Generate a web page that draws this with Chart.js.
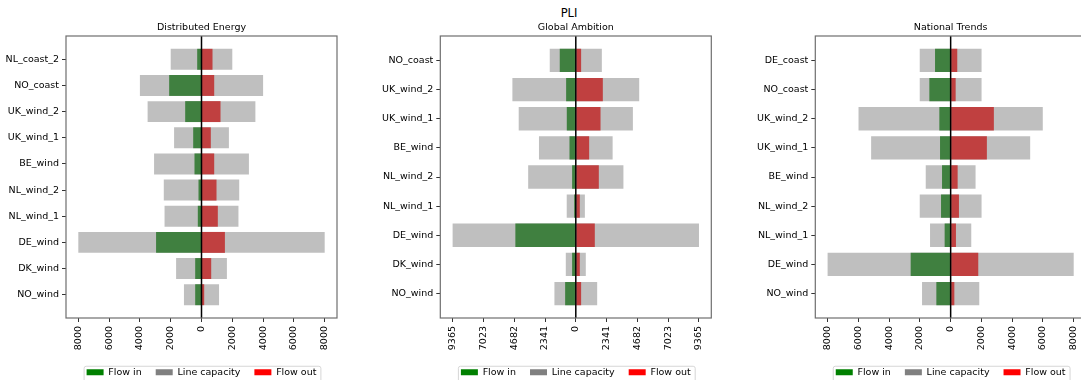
<!DOCTYPE html>
<html><head><meta charset="utf-8">
<script src="https://cdn.jsdelivr.net/npm/chart.js@4.4.1/dist/chart.umd.min.js"></script>
<style>
html,body{margin:0;padding:0;background:#fff;overflow:hidden;width:1081px;height:380px;}
#wrap{position:relative;width:1081px;height:380px;overflow:hidden;background:#fff;}
canvas{position:absolute;top:0;}
#sup{position:absolute;left:469px;width:200px;top:5px;text-align:center;font-family:'DejaVu Sans';font-size:11.5px;line-height:16px;color:#000;}
</style></head><body>
<div id="wrap">
<div id="sup">PLI</div>
<canvas id="c1" width="350" height="387" style="left:0px"></canvas>
<canvas id="c2" width="360" height="387" style="left:360px"></canvas>
<canvas id="c3" width="380" height="387" style="left:720px"></canvas>
</div>
<script>
// ---- data ----
const legendLabels = ['Flow in', 'Line capacity', 'Flow out'];

const deTitle = 'Distributed Energy';
const deCategories = ['NL_coast_2','NO_coast','UK_wind_2','UK_wind_1','BE_wind','NL_wind_2','NL_wind_1','DE_wind','DK_wind','NO_wind'];
const deCapacity = [2000, 4000, 3500, 1780, 3080, 2450, 2400, 8000, 1650, 1140];
const deFlowIn   = [280, 2100, 1060, 540, 455, 195, 240, 2950, 410, 410];
const deFlowOut  = [715, 825, 1235, 605, 825, 975, 1060, 1520, 630, 175];
const deTickValues = [-8000,-6000,-4000,-2000,0,2000,4000,6000,8000];
const deTickLabels = ['8000','6000','4000','2000','0','2000','4000','6000','8000'];

const gaTitle = 'Global Ambition';
const gaCategories = ['NO_coast','UK_wind_2','UK_wind_1','BE_wind','NL_wind_2','NL_wind_1','DE_wind','DK_wind','NO_wind'];
const gaCapacity = [1980, 4820, 4340, 2800, 3620, 690, 9365, 760, 1625];
const gaFlowIn   = [1220, 735, 685, 480, 280, 125, 4595, 280, 810];
const gaFlowOut  = [405, 2055, 1880, 1015, 1750, 305, 1445, 305, 405];
const gaTickValues = [-9365,-7023.75,-4682.5,-2341.25,0,2341.25,4682.5,7023.75,9365];
const gaTickLabels = ['9365','7023','4682','2341','0','2341','4682','7023','9365'];

const ntTitle = 'National Trends';
const ntCategories = ['DE_coast','NO_coast','UK_wind_2','UK_wind_1','BE_wind','NL_wind_2','NL_wind_1','DE_wind','NO_wind'];
const ntCapacity = [2010, 2010, 5990, 5170, 1620, 2010, 1340, 8000, 1860];
const ntFlowIn   = [1015, 1385, 735, 690, 560, 625, 390, 2600, 930];
const ntFlowOut  = [430, 325, 2810, 2355, 455, 540, 345, 1795, 240];
const ntTickValues = [-8000,-6000,-4000,-2000,0,2000,4000,6000,8000];
const ntTickLabels = ['8000','6000','4000','2000','0','2000','4000','6000','8000'];

// ---- styles ----
const FONT = 'DejaVu Sans';
const BAR_COLORS = ['rgb(64,128,64)', 'rgb(191,191,191)', 'rgb(192,64,64)'];
const LEGEND_COLORS = ['#008000', '#808080', '#ff0000'];

const framePlugin = {
  id: 'frame',
  afterDatasetsDraw(chart) {
    const ctx = chart.ctx, a = chart.chartArea;
    const x0 = chart.scales.x.getPixelForValue(0);
    ctx.save();
    ctx.strokeStyle = '#000';
    ctx.lineWidth = 1.5;
    ctx.beginPath();
    ctx.moveTo(x0, a.top);
    ctx.lineTo(x0, a.bottom);
    ctx.stroke();
    ctx.restore();
  },
  afterDraw(chart) {
    const ctx = chart.ctx, a = chart.chartArea;
    ctx.save();
    ctx.strokeStyle = '#6e6e6e';
    ctx.lineWidth = 1.2;
    ctx.strokeRect(a.left, a.top, a.right - a.left, a.bottom - a.top);
    const hb = chart.legend && chart.legend.legendHitBoxes;
    if (hb && hb.length) {
      const first = hb[0], last = hb[hb.length - 1];
      const cy = first.top + first.height / 2;
      const l = first.left - 3, r = last.left + last.width + 4;
      const t = cy - 6.5, b = cy + 14;
      ctx.strokeStyle = '#d6d6d6';
      ctx.lineWidth = 1;
      ctx.beginPath();
      ctx.roundRect(l + 0.5, t + 0.5, r - l, b - t, 2);
      ctx.stroke();
    }
    ctx.restore();
  }
};

function build(id, title, cats, cap, fin, fout, tv, tl, yW, padR) {
  const n = cats.length;
  const m = 0.4 + 0.05 * (n - 0.2);
  const xmax = 1.1 * Math.max(...cap);
  const common = {grouped: false, categoryPercentage: 1, barPercentage: 0.8, borderWidth: 0};
  new Chart(document.getElementById(id), {
    type: 'bar',
    data: {
      datasets: [
        Object.assign({label: legendLabels[0], data: fin.map((v, i) => ({y: i, x: [-v, 0]})), backgroundColor: BAR_COLORS[0], order: 0}, common),
        Object.assign({label: legendLabels[1], data: cap.map((v, i) => ({y: i, x: [-v, v]})), backgroundColor: BAR_COLORS[1], order: 1}, common),
        Object.assign({label: legendLabels[2], data: fout.map((v, i) => ({y: i, x: [0, v]})), backgroundColor: BAR_COLORS[2], order: 0}, common)
      ]
    },
    options: {
      indexAxis: 'y',
      responsive: false,
      animation: false,
      layout: {padding: {left: 0, right: padR, top: 0, bottom: 0}},
      scales: {
        y: {
          type: 'linear', reverse: true, min: -m, max: n - 1 + m, offset: false,
          afterBuildTicks: s => { s.ticks = cats.map((c, i) => ({value: i})); },
          afterFit: s => { s.width = yW; },
          ticks: {callback: (v) => cats[Math.round(v)], font: {family: FONT, size: 9.5}, color: '#000', padding: 3, autoSkip: false},
          grid: {offset: false, drawOnChartArea: false, drawTicks: true, tickLength: 4, color: '#333'},
          border: {display: false}
        },
        x: {
          type: 'linear', min: -xmax, max: xmax, offset: false,
          afterBuildTicks: s => { s.ticks = tv.map(v => ({value: v})); },
          afterFit: s => { s.height = 35.5; },
          ticks: {callback: (v, i) => tl[i], minRotation: 90, maxRotation: 90, autoSkip: false, font: {family: FONT, size: 9.5}, color: '#000', padding: 4},
          grid: {offset: false, drawOnChartArea: false, drawTicks: true, tickLength: 4, color: '#333'},
          border: {display: false}
        }
      },
      plugins: {
        title: {display: true, text: title, fullSize: false, color: '#000', font: {family: FONT, size: 9.5, weight: 'normal'}, padding: {top: 21.5, bottom: 3.1}},
        legend: {
          display: true, position: 'bottom', fullSize: false,
          labels: {
            font: {family: FONT, size: 9.5}, color: '#000', boxWidth: 17, boxHeight: 6, padding: 14,
            sort: (a, b) => a.datasetIndex - b.datasetIndex,
            generateLabels: ch => Chart.defaults.plugins.legend.labels.generateLabels(ch).map(it => {
              it.fillStyle = LEGEND_COLORS[it.datasetIndex];
              it.strokeStyle = LEGEND_COLORS[it.datasetIndex];
              it.lineWidth = 0;
              return it;
            })
          }
        },
        tooltip: {enabled: false}
      }
    },
    plugins: [framePlugin]
  });
}

build('c1', deTitle, deCategories, deCapacity, deFlowIn, deFlowOut, deTickValues, deTickLabels, 66, 13);
build('c2', gaTitle, gaCategories, gaCapacity, gaFlowIn, gaFlowOut, gaTickValues, gaTickLabels, 80.3, 8.7);
build('c3', ntTitle, ntCategories, ntCapacity, ntFlowIn, ntFlowOut, ntTickValues, ntTickLabels, 95.3, 14);
</script>
</body></html>
